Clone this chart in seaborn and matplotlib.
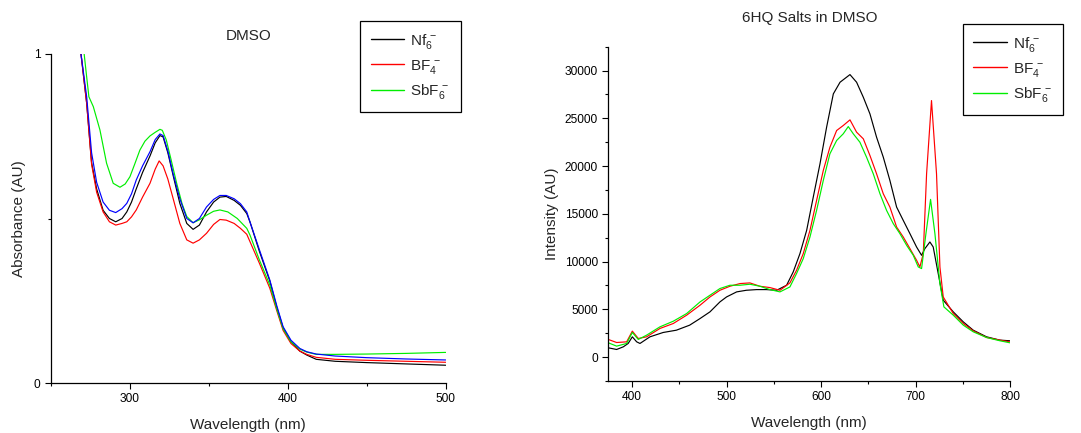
import matplotlib
matplotlib.use("Agg")
import matplotlib.pyplot as plt
import seaborn as sns
import numpy as np
import pandas as pd
from matplotlib.ticker import MultipleLocator, FixedLocator

# ---------------- Left panel: absorbance (DMSO) ----------------
abs_nf_wl = [269, 272.6, 275.7, 278.9, 283, 287, 291, 295, 298, 301, 304, 308, 312.7, 316, 319, 321, 324,
             327.4, 331.6, 336, 340, 344, 348.5, 353, 357, 361, 366, 370, 374, 376, 382, 388.6, 393, 397,
             402, 407.6, 412, 418, 430, 450, 475, 500]
abs_nf = [1.0, 0.85, 0.67, 0.59, 0.525, 0.50, 0.49, 0.50, 0.52, 0.55, 0.59, 0.64, 0.69, 0.73, 0.752, 0.748,
          0.70, 0.63, 0.546, 0.485, 0.467, 0.48, 0.52, 0.55, 0.565, 0.567, 0.555, 0.54, 0.515, 0.49, 0.40,
          0.31, 0.23, 0.168, 0.125, 0.097, 0.085, 0.072, 0.066, 0.062, 0.058, 0.054]

abs_blue_wl = abs_nf_wl
abs_blue = [1.0, 0.87, 0.70, 0.61, 0.55, 0.525, 0.518, 0.53, 0.546, 0.575, 0.617, 0.66, 0.703, 0.74, 0.757,
            0.752, 0.705, 0.635, 0.56, 0.50, 0.487, 0.50, 0.535, 0.558, 0.57, 0.57, 0.56, 0.545, 0.52, 0.49,
            0.405, 0.313, 0.235, 0.171, 0.13, 0.105, 0.095, 0.088, 0.082, 0.077, 0.073, 0.07]

abs_bf_wl = [269, 272.6, 275.7, 278.9, 283, 287, 291, 295, 298, 301, 304, 308, 312.7, 316, 318.5, 321, 324,
             327.4, 331.6, 336, 340, 344, 348.5, 353, 357, 361, 366, 370, 374, 376, 382, 388.6, 393, 397,
             402, 407.6, 412, 418, 430, 450, 475, 500]
abs_bf = [1.0, 0.85, 0.665, 0.58, 0.52, 0.49, 0.48, 0.485, 0.49, 0.505, 0.526, 0.565, 0.607, 0.65, 0.675,
          0.66, 0.62, 0.56, 0.485, 0.435, 0.425, 0.435, 0.455, 0.482, 0.497, 0.495, 0.485, 0.47, 0.452, 0.43,
          0.364, 0.288, 0.22, 0.16, 0.12, 0.097, 0.087, 0.078, 0.072, 0.069, 0.066, 0.063]

abs_sb_wl = [271, 272.6, 274, 276.8, 281, 285.2, 289.4, 293.7, 297, 300, 303, 306.3, 309.5, 312.7, 316, 319,
             320.5, 323, 326, 329.6, 333, 336, 340, 344, 348.5, 353, 357, 362, 368, 374, 376, 382, 388.6,
             393, 397, 402, 407.6, 412, 418, 430, 450, 475, 500]
abs_sb = [1.0, 0.93, 0.87, 0.84, 0.769, 0.668, 0.607, 0.595, 0.605, 0.627, 0.665, 0.708, 0.735, 0.751, 0.762,
          0.771, 0.768, 0.739, 0.68, 0.607, 0.545, 0.506, 0.487, 0.496, 0.51, 0.522, 0.526, 0.52, 0.50, 0.47,
          0.45, 0.374, 0.298, 0.225, 0.165, 0.125, 0.103, 0.094, 0.087, 0.087, 0.088, 0.090, 0.093]

# ---------------- Right panel: emission (6HQ salts in DMSO) ----------------
em_nf_wl = [375, 383.8, 390.9, 396, 400.4, 405, 408.5, 419, 433, 447, 461, 472, 482.5, 493, 500, 510.7, 521,
            531.8, 542, 553, 563.5, 570.5, 577.6, 584.7, 591.7, 598.8, 605.8, 612.9, 620, 630.5, 637.5,
            644.6, 651.6, 658.6, 665.7, 672.7, 679.8, 686.8, 693.9, 700.9, 706.2, 709.7, 715, 718.5, 723.8,
            729.1, 739.7, 750.3, 760.8, 774.9, 789, 799.6]
em_nf = [975, 800, 1080, 1430, 2125, 1600, 1430, 2125, 2580, 2820, 3345, 4040, 4740, 5780, 6300, 6830, 7000,
         7070, 7070, 7000, 7525, 8920, 10835, 13270, 16760, 20240, 24075, 27560, 28780, 29580, 28780, 27210,
         25470, 23030, 20940, 18500, 15710, 14320, 12925, 11530, 10660, 11360, 12055, 11530, 8745, 5960, 4740,
         3690, 2820, 2125, 1780, 1710]

em_bf_wl = [375, 383.8, 394.4, 400.4, 406.7, 415.5, 429.6, 443.7, 457.8, 472, 482.5, 493, 503.6, 514.2, 524.7,
            535.3, 545.9, 556.5, 567, 574, 581.1, 588.2, 595.2, 602.3, 609.3, 616.4, 623.4, 630.5, 637.5,
            644.6, 651.6, 658.6, 665.7, 672.7, 679.8, 686.8, 693.9, 700.9, 704.4, 708, 711.5, 716.7, 722,
            725.6, 729.1, 739.7, 750.3, 760.8, 774.9, 789, 799.6]
em_bf = [1850, 1530, 1600, 2720, 1950, 2125, 3000, 3520, 4390, 5435, 6300, 7000, 7420, 7700, 7770, 7420, 7280,
         7000, 7770, 9090, 10835, 13270, 16400, 19545, 21980, 23725, 24250, 24840, 23550, 22855, 21110, 19200,
         17105, 15710, 13620, 12580, 11360, 10140, 9440, 10835, 19200, 26860, 19200, 9440, 6300, 4560, 3520,
         2750, 2055, 1780, 1600]

em_sb_wl = [375, 383.8, 394.4, 400.4, 406.7, 415.5, 429.6, 443.7, 457.8, 472, 482.5, 493, 503.6, 514.2, 524.7,
            535.3, 545.9, 556.5, 567, 574, 581.1, 588.2, 595.2, 602.3, 609.3, 616.4, 623.4, 628.7, 634, 641,
            648, 655.1, 662.2, 669.2, 676.3, 683.3, 690.4, 697.4, 702.7, 706.2, 710.8, 715.7, 720.3, 725.6,
            729.8, 739.7, 750.3, 760.8, 774.9, 789, 799.6]
em_sb = [1500, 1150, 1430, 2580, 1850, 2300, 3170, 3760, 4560, 5780, 6480, 7180, 7525, 7525, 7630, 7420, 7070,
         6830, 7350, 8745, 10310, 12580, 15360, 18500, 21290, 22680, 23380, 24140, 23380, 22500, 20940, 19200,
         17105, 15360, 13970, 12925, 11705, 10660, 9440, 9270, 12925, 16515, 12925, 7700, 5260, 4390, 3345,
         2650, 2055, 1710, 1500]

labels = [r'$\mathregular{Nf_6^{\,-}}$', r'$\mathregular{BF_4^{\,-}}$', r'$\mathregular{SbF_6^{\,-}}$']

sns.set_theme(style="ticks")
plt.rcParams['font.family'] = ['Liberation Sans', 'DejaVu Sans']
plt.rcParams['mathtext.fontset'] = 'custom'
plt.rcParams['mathtext.rm'] = 'Liberation Sans'

fig = plt.figure(figsize=(10.81, 4.33), dpi=100)
ax1 = fig.add_axes([51/1081, 1-383/433, (445.7-51)/1081, (383-54)/433])
ax2 = fig.add_axes([608.3/1081, 1-381/433, (1010.3-608.3)/1081, (381-46.7)/433])

lw = 0.85
sns.lineplot(x=abs_nf_wl, y=abs_nf, color='#000000', lw=lw, ax=ax1, label=labels[0])
sns.lineplot(x=abs_bf_wl, y=abs_bf, color='#ff0000', lw=lw, ax=ax1, label=labels[1])
sns.lineplot(x=abs_sb_wl, y=abs_sb, color='#00ee00', lw=lw, ax=ax1, label=labels[2])
sns.lineplot(x=abs_blue_wl, y=abs_blue, color='#0000ff', lw=lw, ax=ax1, legend=False)

sns.lineplot(x=em_nf_wl, y=em_nf, color='#000000', lw=lw, ax=ax2, label=labels[0])
sns.lineplot(x=em_bf_wl, y=em_bf, color='#ff0000', lw=lw, ax=ax2, label=labels[1])
sns.lineplot(x=em_sb_wl, y=em_sb, color='#00ee00', lw=lw, ax=ax2, label=labels[2])

for ax in (ax1, ax2):
    for s in ('top', 'right'):
        ax.spines[s].set_visible(False)
    for s in ('left', 'bottom'):
        ax.spines[s].set_color('black')
        ax.spines[s].set_linewidth(0.9)
    ax.tick_params(which='major', direction='out', length=4, width=0.8, colors='black', labelsize=8.6)
    ax.tick_params(which='minor', direction='out', length=2.5, width=0.8, colors='black')
    ax.set_facecolor('white')

ax1.set_xlim(250, 500)
ax1.set_ylim(0, 1)
ax1.xaxis.set_major_locator(FixedLocator([300, 400, 500]))
ax1.xaxis.set_minor_locator(FixedLocator([250, 350, 450]))
ax1.yaxis.set_major_locator(FixedLocator([0, 1]))
ax1.yaxis.set_minor_locator(FixedLocator([0.5]))
ax1.set_xlabel('Wavelength (nm)', fontsize=11, labelpad=9)
ax1.set_ylabel('Absorbance (AU)', fontsize=11, labelpad=6)
ax1.set_title('DMSO', fontsize=11, pad=10)

ax2.set_xlim(375, 800)
ax2.set_ylim(-2500, 32500)
ax2.xaxis.set_major_locator(MultipleLocator(100))
ax2.xaxis.set_minor_locator(MultipleLocator(50))
ax2.yaxis.set_major_locator(MultipleLocator(5000))
ax2.yaxis.set_minor_locator(MultipleLocator(2500))
ax2.set_xlabel('Wavelength (nm)', fontsize=11, labelpad=9)
ax2.set_ylabel('Intensity (AU)', fontsize=11, labelpad=4)
ax2.set_title('6HQ Salts in DMSO', fontsize=11, pad=18)

leg_kw = dict(fontsize=11, frameon=True, fancybox=False, edgecolor='black', framealpha=1,
              handlelength=2.2, handletextpad=0.4, borderpad=0.7, labelspacing=0.45, borderaxespad=0)
l1 = ax1.legend(loc='upper left', bbox_to_anchor=(360/1081, 1-21/433), bbox_transform=fig.transFigure, **leg_kw)
l2 = ax2.legend(loc='upper left', bbox_to_anchor=(962.7/1081, 1-24/433), bbox_transform=fig.transFigure, **leg_kw)
for l in (l1, l2):
    l.get_frame().set_linewidth(0.9)
    for line in l.get_lines():
        line.set_linewidth(1.0)

fig.savefig('out.png', dpi=100, facecolor='white')
